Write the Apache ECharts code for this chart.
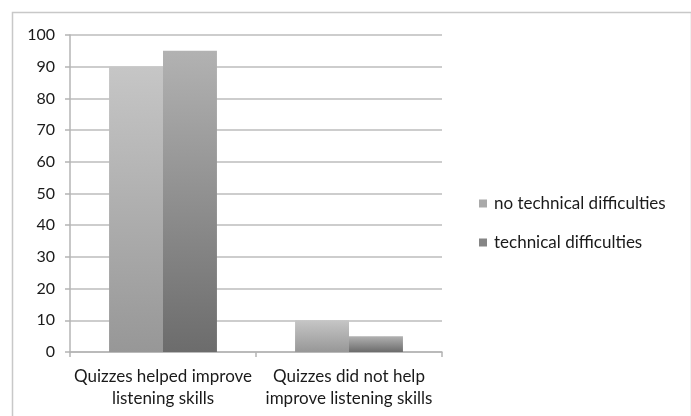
<!DOCTYPE html>
<html>
<head>
<meta charset="utf-8">
<script src="https://cdn.jsdelivr.net/npm/echarts@6/dist/echarts.min.js"></script>
<style>
  html, body { margin: 0; padding: 0; background: #fff; }
  #chart { width: 691px; height: 416px; }
</style>
</head>
<body>
<div id="chart"></div>
<script>
const categories = ['Quizzes helped improve\nlistening skills', 'Quizzes did not help\nimprove listening skills'];
const seriesNames = ['no technical difficulties', 'technical difficulties'];
const noDifficulties = [90, 10];
const withDifficulties = [95, 5];

const chart = echarts.init(document.getElementById('chart'));

function grad(top, bottom) {
  return new echarts.graphic.LinearGradient(0, 0, 0, 1, [
    { offset: 0, color: top },
    { offset: 1, color: bottom }
  ]);
}

chart.setOption({
  backgroundColor: '#fff',
  textStyle: { fontFamily: 'Lato' },
  graphic: [{
    type: 'rect',
    left: 10, top: 10,
    shape: { width: 679, height: 420 },
    style: { fill: 'none', stroke: '#c8c8c8', lineWidth: 1.5 },
    silent: true
  }],
  grid: { left: 70, top: 35, right: 249, bottom: 64 },
  legend: {
    orient: 'vertical',
    left: 474, top: 190,
    itemWidth: 8, itemHeight: 8, itemGap: 22,
    icon: 'rect',
    textStyle: { fontSize: 17, color: '#1a1a1a', fontFamily: 'Lato', padding: [0, 0, 0, 2] },
    data: [
      { name: seriesNames[0], itemStyle: { color: '#a9a9a9' } },
      { name: seriesNames[1], itemStyle: { color: '#858585' } }
    ]
  },
  xAxis: {
    type: 'category',
    data: categories,
    axisLine: { lineStyle: { color: '#b4b4b4', width: 1.5 } },
    axisTick: { show: true, length: 5, lineStyle: { color: '#b4b4b4', width: 1.5 } },
    axisLabel: { interval: 0, hideOverlap: false, fontSize: 17, color: '#1a1a1a', margin: 14, lineHeight: 22, fontFamily: 'Lato' }
  },
  yAxis: {
    type: 'value',
    min: 0, max: 100, interval: 10,
    axisLine: { show: true, lineStyle: { color: '#b4b4b4', width: 1.5 } },
    axisTick: { show: true, length: 5, lineStyle: { color: '#b4b4b4', width: 1.5 } },
    axisLabel: { fontSize: 16, color: '#1a1a1a', margin: 15, fontFamily: 'Lato' },
    splitLine: { lineStyle: { color: '#bcbcbc', width: 1.5 } }
  },
  series: [
    {
      name: seriesNames[0],
      type: 'bar',
      data: noDifficulties,
      barGap: '0%',
      barCategoryGap: '42%',
      itemStyle: { color: grad('#c6c6c6', '#979797') }
    },
    {
      name: seriesNames[1],
      type: 'bar',
      data: withDifficulties,
      itemStyle: { color: grad('#b2b2b2', '#6c6c6c') }
    }
  ]
});
</script>
</body>
</html>
